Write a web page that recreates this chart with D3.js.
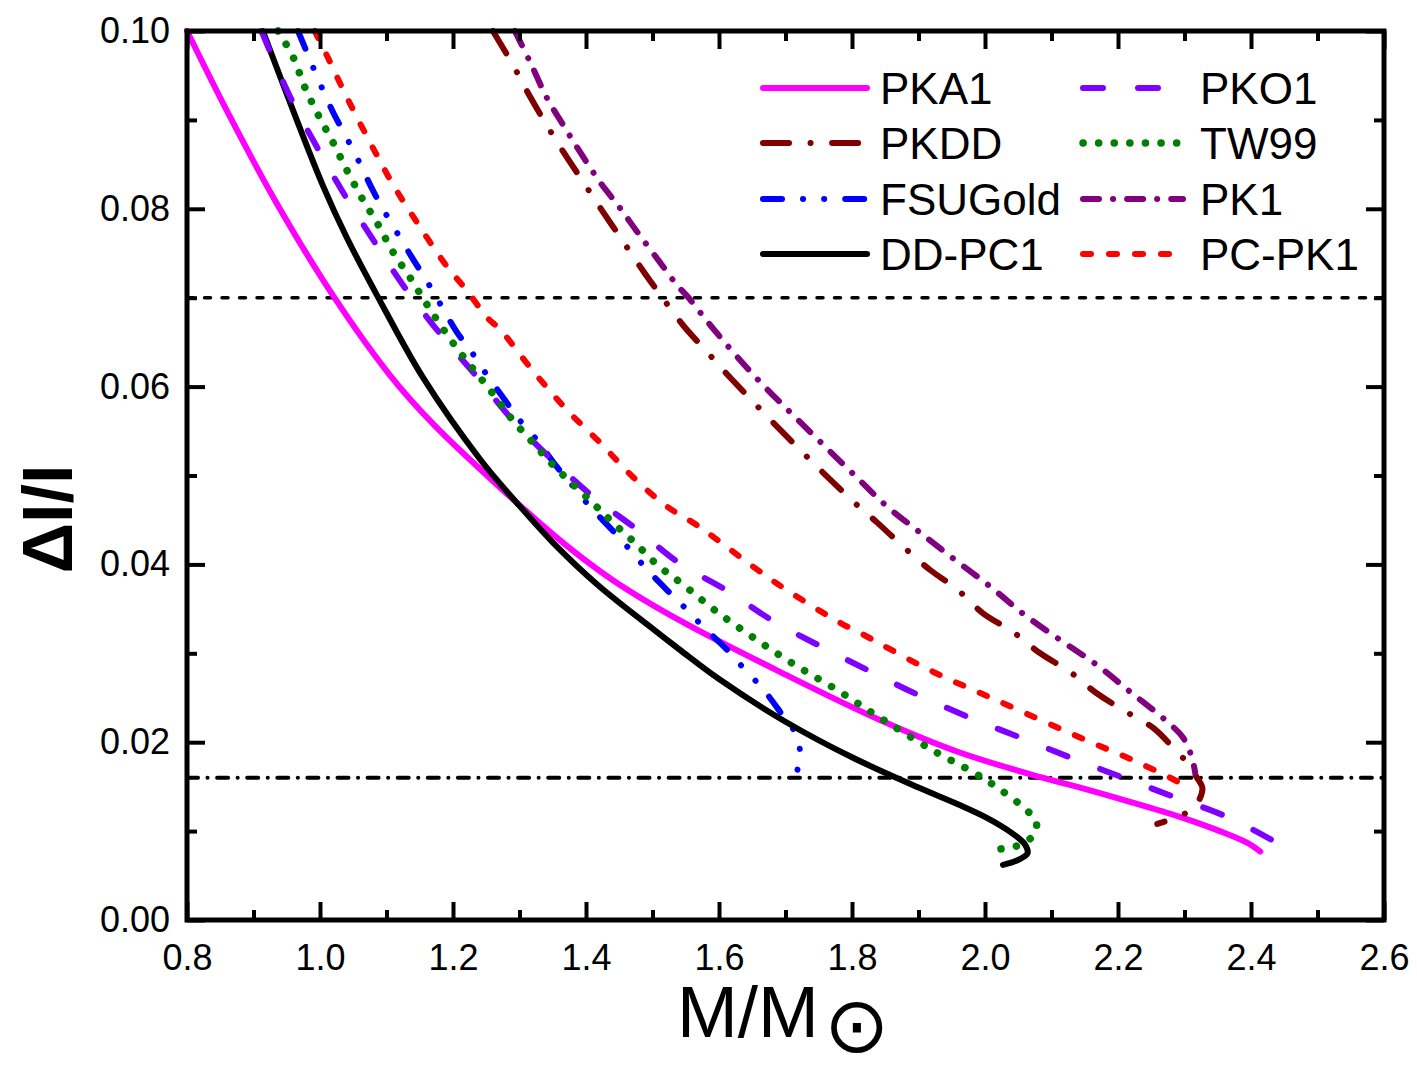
<!DOCTYPE html>
<html>
<head>
<meta charset="utf-8">
<script src="https://cdn.jsdelivr.net/npm/d3@7"></script>
<style>
  html, body { margin: 0; padding: 0; background: #ffffff; }
  svg { display: block; }
  text { font-family: "Liberation Sans", Arial, Helvetica, sans-serif; fill: #000; }
</style>
</head>
<body>
<svg id="chart" width="1417" height="1071"></svg>
<script>
// ---------------- data ----------------
const xTickValues = [0.8, 1.0, 1.2, 1.4, 1.6, 1.8, 2.0, 2.2, 2.4, 2.6];
const xMinorValues = [0.9, 1.1, 1.3, 1.5, 1.7, 1.9, 2.1, 2.3, 2.5];
const yTickValues = [0.00, 0.02, 0.04, 0.06, 0.08, 0.10];
const yMinorValues = [0.01, 0.03, 0.05, 0.07, 0.09];

const seriesNames = ["PKA1", "PKDD", "FSUGold", "DD-PC1", "PKO1", "TW99", "PK1", "PC-PK1"];

// [M/Msun, dI/I]
const PKA1 = [[0.800,0.1000],[0.865,0.0903],[0.935,0.0806],[1.020,0.0702],[1.105,0.0613],[1.170,0.0558],
  [1.241,0.0507],[1.301,0.0466],[1.366,0.0424],[1.441,0.0382],[1.541,0.0337],[1.700,0.0276],
  [1.842,0.0225],[1.960,0.0189],[2.082,0.0161],[2.143,0.0149],[2.218,0.0133],[2.293,0.0116],[2.353,0.0100],
  [2.394,0.0087],[2.414,0.0077]];
const PKDD = [[1.260,0.1000],[1.290,0.0962],[1.316,0.0926],[1.341,0.0894],[1.366,0.0864],[1.396,0.0830],
  [1.426,0.0796],[1.456,0.0763],[1.487,0.0729],[1.514,0.0701],[1.546,0.0669],[1.582,0.0639],[1.617,0.0610],
  [1.707,0.0540],[1.800,0.0472],[1.838,0.0447],[1.877,0.0420],[1.917,0.0394],[1.958,0.0372],[1.997,0.0345],
  [2.042,0.0324],[2.083,0.0300],[2.128,0.0279],[2.168,0.0255],[2.208,0.0236],[2.253,0.0216],[2.290,0.0188],
  [2.308,0.0174],[2.318,0.0161],[2.327,0.0148],[2.315,0.0127],[2.293,0.0117],[2.259,0.0108]];
const FSUGold = [[0.967,0.1000],[0.982,0.0973],[1.000,0.0941],[1.020,0.0908],[1.035,0.0887],[1.056,0.0857],
  [1.078,0.0823],[1.093,0.0802],[1.116,0.0773],[1.141,0.0742],[1.158,0.0722],[1.180,0.0694],[1.206,0.0661],
  [1.226,0.0641],[1.251,0.0613],[1.278,0.0585],[1.296,0.0566],[1.326,0.0540],[1.356,0.0510],[1.376,0.0492],
  [1.406,0.0465],[1.439,0.0439],[1.462,0.0420],[1.492,0.0394],[1.526,0.0368],[1.549,0.0351],[1.576,0.0330],
  [1.612,0.0304],[1.635,0.0285],[1.667,0.0259],[1.695,0.0231],[1.715,0.0210],[1.722,0.0188],[1.718,0.0169]];
const DDPC1 = [[0.914,0.1000],[0.965,0.0900],[1.005,0.0825],[1.040,0.0768],[1.087,0.0701],[1.155,0.0610],
  [1.241,0.0518],[1.301,0.0465],[1.351,0.0424],[1.416,0.0378],[1.491,0.0333],[1.541,0.0304],[1.600,0.0271],
  [1.700,0.0223],[1.800,0.0183],[1.900,0.0149],[1.960,0.0130],[2.000,0.0116],[2.040,0.0098],[2.060,0.0085],
  [2.064,0.0075],[2.048,0.0067],[2.027,0.0062]];
const PKO1 = [[0.912,0.1000],[0.955,0.0926],[0.995,0.0870],[1.035,0.0818],[1.080,0.0765],[1.125,0.0714],
  [1.180,0.0660],[1.236,0.0611],[1.290,0.0562],[1.350,0.0517],[1.411,0.0476],[1.477,0.0439],[1.541,0.0401],
  [1.611,0.0371],[1.680,0.0337],[1.755,0.0307],[1.829,0.0279],[1.900,0.0253],[1.979,0.0227],[2.054,0.0205],
  [2.131,0.0182],[2.208,0.0160],[2.286,0.0138],[2.364,0.0116],[2.436,0.0088],[2.451,0.0081]];
const TW99 = [[0.937,0.1000],[0.960,0.0970],[0.977,0.0937],[0.997,0.0906],[1.020,0.0874],[1.040,0.0844],
  [1.063,0.0812],[1.086,0.0784],[1.110,0.0751],[1.136,0.0722],[1.161,0.0692],[1.200,0.0649],[1.259,0.0593],
  [1.290,0.0562],[1.320,0.0537],[1.350,0.0512],[1.406,0.0472],[1.439,0.0448],[1.474,0.0424],[1.508,0.0399],
  [1.543,0.0379],[1.598,0.0346],[1.657,0.0315],[1.714,0.0287],[1.777,0.0259],[1.841,0.0228],[1.921,0.0191],
  [1.985,0.0165],[2.024,0.0146],[2.062,0.0124],[2.077,0.0110],[2.075,0.0098],[2.062,0.0088],[2.042,0.0082],
  [2.024,0.0080]];
const PK1 = [[1.293,0.1000],[1.316,0.0965],[1.341,0.0925],[1.366,0.0894],[1.391,0.0864],[1.421,0.0830],
  [1.451,0.0801],[1.477,0.0774],[1.511,0.0740],[1.537,0.0714],[1.553,0.0701],[1.587,0.0669],[1.621,0.0639],
  [1.662,0.0605],[1.729,0.0555],[1.807,0.0498],[1.853,0.0465],[1.902,0.0436],[1.955,0.0405],[2.008,0.0375],
  [2.060,0.0343],[2.113,0.0315],[2.168,0.0287],[2.221,0.0255],[2.271,0.0225],[2.298,0.0205],[2.311,0.0183],
  [2.316,0.0166]];
const PCPK1 = [[0.992,0.1000],[1.010,0.0973],[1.040,0.0926],[1.075,0.0875],[1.110,0.0827],[1.150,0.0780],
  [1.191,0.0735],[1.221,0.0708],[1.251,0.0678],[1.271,0.0664],[1.321,0.0617],[1.371,0.0574],[1.421,0.0537],
  [1.471,0.0498],[1.522,0.0465],[1.567,0.0444],[1.686,0.0379],[1.783,0.0334],[1.817,0.0321],[1.917,0.0281],
  [2.018,0.0247],[2.153,0.0202],[2.228,0.0178],[2.298,0.0152],[2.304,0.0148]];

const seriesData = [PKA1, PKDD, FSUGold, DDPC1, PKO1, TW99, PK1, PCPK1];

// horizontal reference levels
const refLevels = [0.07, 0.016];

// ---------------- styles ----------------
const styles = {
  "PKA1":    { color: "#ff00ff", width: 6,   dash: null },
  "PKDD":    { color: "#800000", width: 6,   dash: "26,21.5,0.1,21.5" },
  "FSUGold": { color: "#0000ff", width: 6,   dash: "19,21,0.1,21,0.1,21" },
  "DD-PC1":  { color: "#000000", width: 6,   dash: null },
  "PKO1":    { color: "#8000ff", width: 6,   dash: "20,35" },
  "TW99":    { color: "#008000", width: 7.5, dash: "0.1,15.5" },
  "PK1":     { color: "#800080", width: 6,   dash: "16,14,0.1,14" },
  "PC-PK1":  { color: "#ff0000", width: 6,   dash: "8,18" }
};
const refStyles = [
  { dash: "6,11.5", width: 3.5 },
  { dash: "11,9.5,0.1,9.5", width: 4 }
];

// ---------------- layout ----------------
const svg = d3.select("#chart");
svg.append("rect").attr("width", 1417).attr("height", 1071).attr("fill", "#fff");

const pLeft = 187, pRight = 1384, pTop = 31, pBottom = 920;
const x = d3.scaleLinear().domain([0.8, 2.6]).range([pLeft, pRight]);
const y = d3.scaleLinear().domain([0, 0.1]).range([pBottom, pTop]);

const tickFont = 36;

function styleAxis(g, sw) {
  g.select(".domain").remove();
  g.selectAll(".tick line").attr("stroke", "#000").attr("stroke-width", sw);
  g.selectAll(".tick text").attr("font-size", tickFont)
    .attr("font-family", '"Liberation Sans", Arial, Helvetica, sans-serif').attr("fill", "#000");
}

// reference lines
refLevels.forEach((lv, i) => {
  svg.append("line")
    .attr("x1", x(0.8)).attr("x2", x(2.6))
    .attr("y1", y(lv)).attr("y2", y(lv))
    .attr("stroke", "#000").attr("stroke-width", refStyles[i].width)
    .attr("stroke-dasharray", refStyles[i].dash)
    .attr("stroke-linecap", "round");
});

// curves
const line = d3.line()
  .x(d => x(d[0])).y(d => y(d[1]))
  .curve(d3.curveCatmullRom.alpha(0.5));

seriesNames.forEach((name, i) => {
  const st = styles[name];
  svg.append("path")
    .datum(seriesData[i])
    .attr("d", line)
    .attr("fill", "none")
    .attr("stroke", st.color)
    .attr("stroke-width", st.width)
    .attr("stroke-linecap", "round")
    .attr("stroke-linejoin", "round")
    .attr("stroke-dasharray", st.dash);
});

// axes: ticks inward on all 4 sides
const gB = svg.append("g").attr("transform", `translate(0,${pBottom})`)
  .call(d3.axisBottom(x).tickValues(xTickValues).tickSize(-18).tickSizeOuter(0)
    .tickPadding(24).tickFormat(d3.format(".1f")));
styleAxis(gB, 4);
const gBm = svg.append("g").attr("transform", `translate(0,${pBottom})`)
  .call(d3.axisBottom(x).tickValues(xMinorValues).tickSize(-10).tickSizeOuter(0).tickFormat(""));
styleAxis(gBm, 4);
const gT = svg.append("g").attr("transform", `translate(0,${pTop})`)
  .call(d3.axisTop(x).tickValues(xTickValues).tickSize(-18).tickSizeOuter(0).tickFormat(""));
styleAxis(gT, 4);
const gTm = svg.append("g").attr("transform", `translate(0,${pTop})`)
  .call(d3.axisTop(x).tickValues(xMinorValues).tickSize(-10).tickSizeOuter(0).tickFormat(""));
styleAxis(gTm, 4);

const gL = svg.append("g").attr("transform", `translate(${pLeft},0)`)
  .call(d3.axisLeft(y).tickValues(yTickValues).tickSize(-18).tickSizeOuter(0)
    .tickPadding(17).tickFormat(d3.format(".2f")));
styleAxis(gL, 4);
const gLm = svg.append("g").attr("transform", `translate(${pLeft},0)`)
  .call(d3.axisLeft(y).tickValues(yMinorValues).tickSize(-10).tickSizeOuter(0).tickFormat(""));
styleAxis(gLm, 4);
const gR = svg.append("g").attr("transform", `translate(${pRight},0)`)
  .call(d3.axisRight(y).tickValues(yTickValues).tickSize(-18).tickSizeOuter(0).tickFormat(""));
styleAxis(gR, 4);
const gRm = svg.append("g").attr("transform", `translate(${pRight},0)`)
  .call(d3.axisRight(y).tickValues(yMinorValues).tickSize(-10).tickSizeOuter(0).tickFormat(""));
styleAxis(gRm, 4);

// frame
svg.append("rect")
  .attr("x", pLeft).attr("y", pTop)
  .attr("width", pRight - pLeft).attr("height", pBottom - pTop)
  .attr("fill", "none").attr("stroke", "#000").attr("stroke-width", 5);

// axis titles
const xt = svg.append("text")
  .attr("x", 677).attr("y", 1037)
  .attr("font-size", 73);
xt.append("tspan").text("M/M");
xt.append("tspan")
  .attr("font-family", '"DejaVu Sans", sans-serif')
  .attr("font-size", 78)
  .attr("dx", 5).attr("dy", 15)
  .text("\u2299");

svg.append("text")
  .attr("transform", "translate(72,519) rotate(-90)")
  .attr("text-anchor", "middle")
  .attr("font-size", 70)
  .attr("font-weight", "bold")
  .text("\u0394I/I");

// legend
const legendCols = [
  { lx1: 763, lx2: 867, tx: 880, names: ["PKA1", "PKDD", "FSUGold", "DD-PC1"] },
  { lx1: 1083, lx2: 1183, tx: 1200, names: ["PKO1", "TW99", "PK1", "PC-PK1"] }
];
const legendRows = [88, 143, 199, 254];
legendCols.forEach(col => {
  col.names.forEach((name, r) => {
    const st = styles[name];
    const cy = legendRows[r];
    svg.append("line")
      .attr("x1", col.lx1).attr("x2", col.lx2)
      .attr("y1", cy).attr("y2", cy)
      .attr("stroke", st.color).attr("stroke-width", st.width)
      .attr("stroke-linecap", "round")
      .attr("stroke-dasharray", st.dash);
    svg.append("text")
      .attr("x", col.tx).attr("y", cy + 16)
      .attr("font-size", 44)
      .text(name);
  });
});
</script>
</body>
</html>
